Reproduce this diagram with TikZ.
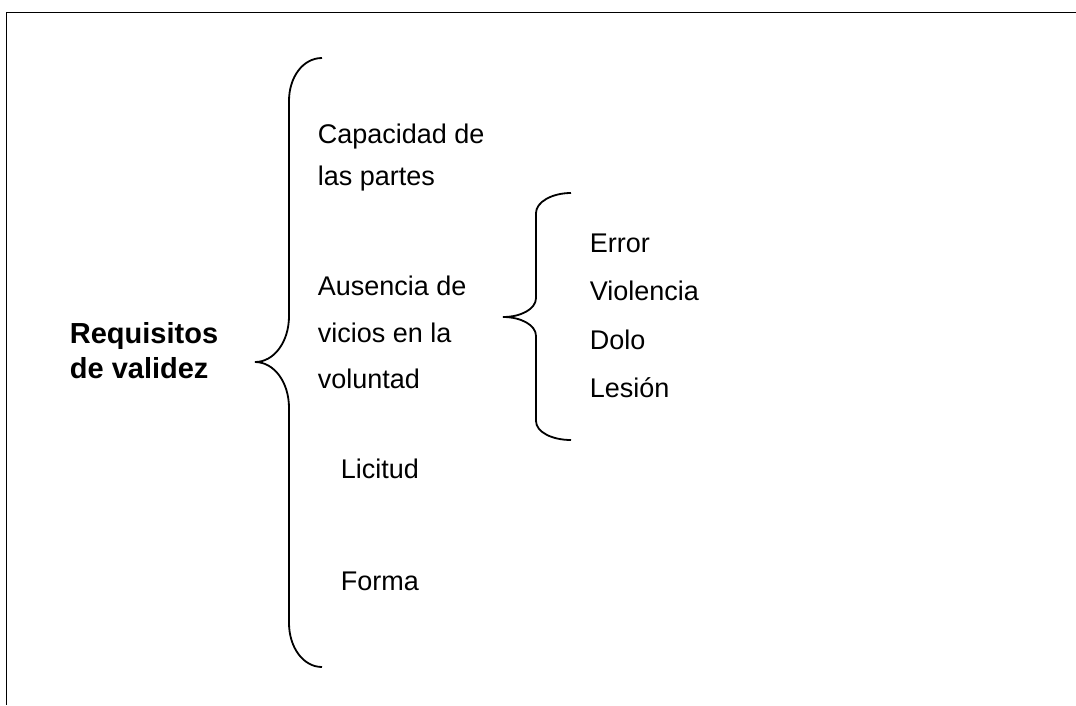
\documentclass[tikz,border=0pt]{standalone}
\usepackage{fontspec}
\setmainfont{Liberation Sans}

\tikzset{
  item/.style={anchor=base west,inner sep=0pt,font=\fontsize{27}{32}\selectfont},
  head/.style={anchor=base west,inner sep=0pt,font=\fontsize{29}{34}\selectfont\bfseries}
}

\begin{document}
\begin{tikzpicture}[x=1pt,y=-1pt,line width=1.8pt]
\useasboundingbox (0,0) rectangle (1076,705);

% frame
\draw (1076,12.5) -- (6.5,12.5) -- (6.5,705);

% big brace
\coordinate (top) at (322,58);
\coordinate (mid) at (255,362);
\coordinate (bot) at (322,667);
\draw (top) .. controls +(-19,0) and +(0,-24) .. (289,101)
  -- (289,316) .. controls +(0,26) and +(19,0) .. (mid)
  .. controls +(19,0) and +(0,-26) .. (289,408)
  -- (289,623) .. controls +(0,24) and +(-19,0) .. (bot);

% small brace
\coordinate (vtop) at (571,193);
\coordinate (vmid) at (503,317);
\coordinate (vbot) at (571,440);
\draw (vtop) .. controls +(-19,0) and +(0,-11) .. (536,213)
  -- (536,298) .. controls +(0,11) and +(18,0) .. (vmid)
  .. controls +(18,0) and +(0,-11) .. (536,336)
  -- (536,421) .. controls +(0,11) and +(-19,0) .. (vbot);

\node[head] (req1) at (69,343) {Requisitos};
\node[head] (req2) at (69,378) {de validez};

\node[item] (cap1) at (317,143) {Capacidad de};
\node[item] (cap2) at (317,185) {las partes};

\node[item] (aus1) at (317,295) {Ausencia de};
\node[item] (aus2) at (317,342) {vicios en la};
\node[item] (aus3) at (317,388) {voluntad};

\node[item] (err) at (589,252) {Error};
\node[item] (vio) at (589,300) {Violencia};
\node[item] (dol) at (589,349) {Dolo};
\node[item] (les) at (589,397) {Lesión};

\node[item] (lic) at (340,478) {Licitud};
\node[item] (for) at (340,590) {Forma};

\end{tikzpicture}
\end{document}
